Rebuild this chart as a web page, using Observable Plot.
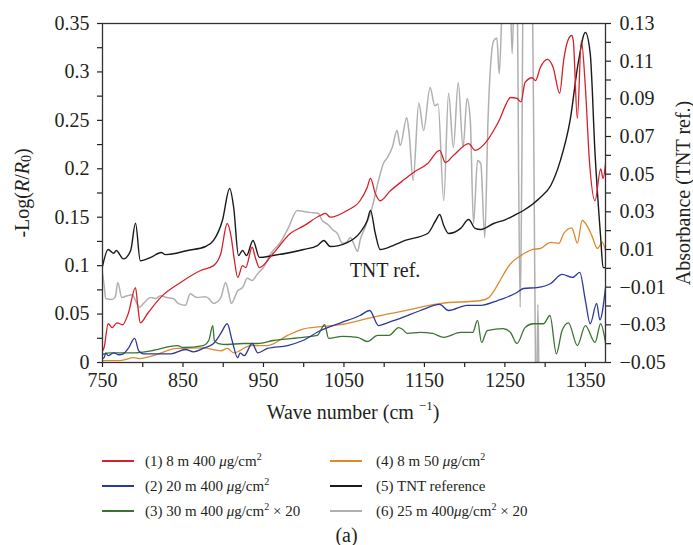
<!DOCTYPE html>
<html><head><meta charset="utf-8">
<script src="https://cdn.jsdelivr.net/npm/d3@7"></script>
<script src="https://cdn.jsdelivr.net/npm/@observablehq/plot@0.6"></script>
<style>
body{margin:0;background:#fff;}
#wrap{position:relative;width:693px;height:545px;font-family:"Liberation Serif","Times New Roman",serif;color:#231f20;overflow:hidden;}
#wrap svg{position:absolute;left:0;top:0;}
.leg{position:absolute;font-size:15px;white-space:nowrap;line-height:1;transform:translateY(-50%);}
.leg sup{font-size:10px;vertical-align:0;position:relative;top:-6px;}
.sw{position:absolute;height:1.6px;width:32px;}
#cap{position:absolute;left:0;width:693px;text-align:center;font-size:20px;transform:translateY(-50%);}
</style></head><body><div id="wrap"></div>
<script>
// ---- data (wave number, value) ----
// (1) 8 m 400 µg/cm2  [-Log(R/R0)]
const red = [[750,0.012],[752,0.0155],[757,0.040],[762,0.036],[768,0.041],[775,0.039],[782,0.0506],[791,0.0774],[794,0.057],[797,0.041],[806,0.0506],[822,0.067],[847,0.0826],[872,0.095],[888,0.100],[897,0.1125],[905,0.1435],[910,0.129],[914,0.105],[918,0.0878],[924,0.100],[928,0.098],[936,0.119],[940,0.108],[945,0.098],[962,0.1125],[983,0.133],[1000,0.141],[1021,0.152],[1027,0.154],[1033,0.150],[1054,0.157],[1070,0.167],[1079,0.181],[1083,0.190],[1089,0.1745],[1095,0.167],[1108,0.1776],[1122,0.187],[1136,0.196],[1154,0.2055],[1169,0.219],[1176,0.2065],[1186,0.2137],[1205,0.226],[1213,0.219],[1226,0.227],[1236,0.2395],[1244,0.252],[1251,0.266],[1257,0.2736],[1265,0.2726],[1270,0.269],[1275,0.289],[1284,0.294],[1288,0.291],[1294,0.3046],[1303,0.313],[1310,0.3046],[1318,0.278],[1323,0.312],[1328,0.332],[1333,0.3376],[1335,0.332],[1340,0.252],[1345,0.332],[1350,0.284],[1355,0.2085],[1362,0.167],[1369,0.200],[1372,0.190],[1375,0.205]];
// (2) 20 m 400 µg/cm2
const blue = [[750,0.004],[752,0.005],[754,0.010],[757,0.007],[764,0.010],[770,0.008],[776,0.009],[782,0.0145],[790,0.025],[795,0.012],[801,0.009],[822,0.009],[835,0.009],[853,0.0134],[863,0.011],[875,0.0145],[888,0.0196],[897,0.030],[905,0.040],[911,0.0227],[918,0.005],[921,0.010],[926,0.007],[936,0.0196],[943,0.010],[955,0.0145],[980,0.0175],[999,0.0227],[1021,0.033],[1046,0.041],[1070,0.0485],[1082,0.0537],[1093,0.038],[1104,0.041],[1123,0.0465],[1145,0.0537],[1169,0.060],[1180,0.0537],[1203,0.059],[1220,0.059],[1241,0.064],[1248,0.066],[1265,0.0723],[1273,0.0764],[1290,0.0774],[1307,0.0816],[1321,0.0909],[1334,0.0878],[1343,0.093],[1350,0.064],[1356,0.040],[1364,0.061],[1368,0.044],[1375,0.077]];
// (3) 30 m 400 µg/cm2 x 20
const green = [[750,0.008],[752,0.009],[760,0.010],[788,0.010],[810,0.012],[843,0.0175],[850,0.0155],[875,0.0175],[882,0.0227],[887,0.038],[889,0.0227],[894,0.0196],[905,0.0186],[925,0.0196],[943,0.0196],[962,0.0227],[999,0.026],[1017,0.028],[1026,0.039],[1031,0.025],[1048,0.027],[1067,0.026],[1079,0.0217],[1092,0.028],[1106,0.028],[1118,0.036],[1123,0.034],[1129,0.030],[1145,0.031],[1160,0.030],[1174,0.026],[1195,0.031],[1210,0.031],[1216,0.0434],[1221,0.0207],[1228,0.033],[1248,0.035],[1257,0.031],[1265,0.0196],[1275,0.036],[1285,0.040],[1298,0.040],[1306,0.0485],[1314,0.009],[1321,0.033],[1329,0.041],[1340,0.0175],[1350,0.038],[1362,0.0207],[1369,0.040],[1375,0.0207]];
// (4) 8 m 50 µg/cm2
const orange = [[750,0.002],[772,0.002],[789,0.005],[796,0.004],[813,0.007],[843,0.0145],[875,0.015],[897,0.012],[905,0.0145],[913,0.010],[934,0.0175],[955,0.0175],[980,0.028],[999,0.0345],[1021,0.037],[1046,0.039],[1070,0.0434],[1095,0.0485],[1123,0.053],[1170,0.061],[1220,0.064],[1230,0.067],[1238,0.076],[1244,0.0847],[1257,0.102],[1269,0.110],[1285,0.1167],[1294,0.1177],[1307,0.124],[1317,0.123],[1323,0.133],[1333,0.139],[1336,0.133],[1340,0.123],[1346,0.1466],[1352,0.1414],[1358,0.131],[1365,0.1177],[1371,0.124],[1375,0.1156]];
// (5) TNT reference  [Absorbance, right axis]
const tntRef = [[750,0.001],[757,0.010],[764,0.008],[767,0.0095],[776,0.005],[785,0.0095],[791,0.024],[797,0.004],[810,0.0058],[823,0.0084],[828,0.0073],[856,0.0095],[878,0.0116],[888,0.0148],[899,0.0254],[908,0.0424],[913,0.0323],[919,0.0068],[924,0.0095],[929,0.0068],[937,0.0148],[945,0.0058],[962,0.0068],[1000,0.010],[1017,0.0121],[1025,0.0148],[1033,0.0116],[1054,0.0137],[1070,0.019],[1079,0.0254],[1083,0.0307],[1089,0.0185],[1095,0.010],[1111,0.0121],[1126,0.0148],[1154,0.0185],[1164,0.0254],[1169,0.0286],[1174,0.0227],[1180,0.0185],[1195,0.0212],[1205,0.0259],[1213,0.0212],[1220,0.0206],[1236,0.0238],[1251,0.0259],[1261,0.028],[1273,0.0307],[1294,0.0376],[1307,0.044],[1319,0.0573],[1331,0.0785],[1341,0.1088],[1350,0.1252],[1356,0.1141],[1362,0.061],[1369,0.0164],[1372,0.0004],[1375,0.0004]];
// (6) 25 m 400 µg/cm2 x 20 (runs off scale)
const grey = [[750,0.092],[752,0.080],[754,0.066],[762,0.065],[766,0.068],[769,0.0826],[774,0.067],[781,0.069],[787,0.070],[791,0.064],[796,0.057],[801,0.061],[810,0.067],[816,0.066],[822,0.069],[830,0.067],[838,0.066],[844,0.061],[853,0.059],[859,0.071],[867,0.067],[878,0.068],[882,0.066],[888,0.061],[897,0.067],[903,0.0826],[907,0.071],[910,0.061],[918,0.074],[924,0.0774],[930,0.087],[936,0.0847],[943,0.092],[950,0.098],[959,0.1125],[971,0.124],[981,0.139],[992,0.157],[1000,0.156],[1008,0.155],[1018,0.154],[1023,0.1466],[1030,0.1425],[1036,0.137],[1042,0.133],[1048,0.123],[1053,0.124],[1058,0.129],[1062,0.123],[1067,0.1146],[1070,0.126],[1076,0.139],[1085,0.160],[1093,0.188],[1099,0.2055],[1104,0.2116],[1110,0.222],[1116,0.2395],[1120,0.224],[1128,0.253],[1131,0.2364],[1136,0.188],[1143,0.268],[1149,0.2395],[1157,0.284],[1163,0.265],[1167,0.267],[1174,0.167],[1180,0.278],[1186,0.222],[1192,0.289],[1198,0.222],[1203,0.2726],[1207,0.250],[1211,0.1435],[1216,0.2085],[1220,0.2055],[1225,0.129],[1229,0.250],[1236,0.332],[1240,0.335],[1243,0.298],[1247,0.38],[1252,0.42],[1256,0.40],[1259,0.319],[1262,0.40],[1265,0.42],[1267,0.20],[1269,0.057],[1271,0.20],[1273,0.42],[1280,0.42],[1284,0.40],[1287,0.10],[1289,-0.06],[1291,0.06],[1293,-0.06],[1296,-0.1]];

// ---- ticks ----
const xMajor = [750, 850, 950, 1050, 1150, 1250, 1350];
const xMinor = [800, 900, 1000, 1100, 1200, 1300];
const yMajor = [0, 0.05, 0.1, 0.15, 0.2, 0.25, 0.3, 0.35];
const yMinor = [0.025, 0.075, 0.125, 0.175, 0.225, 0.275, 0.325];
const absMajor = [-0.05, -0.03, -0.01, 0.01, 0.03, 0.05, 0.07, 0.09, 0.11, 0.13];
const absMinor = [-0.04, -0.02, 0, 0.02, 0.04, 0.06, 0.08, 0.10, 0.12];
const Y_DOMAIN = [0, 0.35];
const ABS_DOMAIN = [-0.05, 0.13];

const legendItems = [
  {label: '(1) 8 m 400 <i>μ</i>g/cm<sup>2</sup>', color: "#d7202a"},
  {label: '(2) 20 m 400 <i>μ</i>g/cm<sup>2</sup>', color: "#2b3a9a"},
  {label: '(3) 30 m 400 <i>μ</i>g/cm<sup>2</sup> × 20', color: "#3a7332"},
  {label: '(4) 8 m 50 <i>μ</i>g/cm<sup>2</sup>', color: "#dc8a2e"},
  {label: '(5) TNT reference', color: "#1a1a1a"},
  {label: '(6) 25 m 400<i>μ</i>g/cm<sup>2</sup> × 20', color: "#b0b0b0"}
];

// ---- build ----
const absToLeft = a => (a - ABS_DOMAIN[0]) / (ABS_DOMAIN[1] - ABS_DOMAIN[0]) * (Y_DOMAIN[1] - Y_DOMAIN[0]) + Y_DOMAIN[0];
const leftToAbs = v => (v - Y_DOMAIN[0]) / (Y_DOMAIN[1] - Y_DOMAIN[0]) * (ABS_DOMAIN[1] - ABS_DOMAIN[0]) + ABS_DOMAIN[0];
const toRows = arr => arr.map(([x, y]) => ({x, y}));
const tntRows = tntRef.map(([x, a]) => ({x, y: absToLeft(a)}));
const fmtAbs = v => { const a = Math.round(leftToAbs(v) * 100) / 100; return (a < 0 ? "\u2212" : "") + Math.abs(a).toFixed(2); };

const lineOpts = (color, w = 1.3) => ({x: "x", y: "y", stroke: color, strokeWidth: w, curve: "monotone-x", clip: true});

const chart = Plot.plot({
  width: 693, height: 425,
  marginLeft: 102, marginRight: 88, marginTop: 23, marginBottom: 63,
  x: {domain: [750, 1375]},
  y: {domain: Y_DOMAIN},
  style: {fontFamily: '"Liberation Serif","Times New Roman",serif', color: "#231f20", background: "white", overflow: "visible"},
  marks: [
    Plot.line(toRows(grey), lineOpts(legendItems[5].color, 1.5)),
    Plot.line(toRows(orange), lineOpts(legendItems[3].color)),
    Plot.line(toRows(green), lineOpts(legendItems[2].color)),
    Plot.line(toRows(blue), lineOpts(legendItems[1].color)),
    Plot.line(tntRows, lineOpts(legendItems[4].color, 1.4)),
    Plot.line(toRows(red), lineOpts(legendItems[0].color)),
    Plot.text([{x: 1101, y: 0.095, t: "TNT ref."}], {x: "x", y: "y", text: "t", fontSize: 20, fill: "#231f20"}),
    Plot.axisX({ticks: xMajor, tickSize: 5, tickPadding: 5, tickFormat: d => String(d), fontSize: 20, label: null, strokeWidth: 1.2}),
    Plot.axisX({ticks: xMinor, tickSize: 5, tickFormat: () => "", label: null, strokeWidth: 1.2}),
    Plot.axisY({ticks: yMajor, tickSize: 5, tickPadding: 8, tickFormat: d => String(Math.round(d * 100) / 100), fontSize: 20, label: null, strokeWidth: 1.2}),
    Plot.axisY({ticks: yMinor, tickSize: 5, tickFormat: () => "", label: null, strokeWidth: 1.2}),
    Plot.axisY({anchor: "right", ticks: absMajor.map(absToLeft), tickSize: 5, tickPadding: 9, tickFormat: fmtAbs, fontSize: 20, label: null, strokeWidth: 1.2}),
    Plot.axisY({anchor: "right", ticks: absMinor.map(absToLeft), tickSize: 5, tickFormat: () => "", label: null, strokeWidth: 1.2}),
    Plot.frame({stroke: "#333", strokeWidth: 1.3})
  ]
});

const wrap = document.getElementById("wrap");
wrap.appendChild(chart);

// axis titles with rich text
const svg = d3.select(chart);
const yl = svg.append("text").attr("transform", "translate(22,193) rotate(-90)")
  .attr("text-anchor", "middle").attr("dominant-baseline", "central").attr("font-size", 20).attr("fill", "#231f20");
yl.append("tspan").text("-Log(");
yl.append("tspan").attr("font-style", "italic").text("R");
yl.append("tspan").text("/");
yl.append("tspan").attr("font-style", "italic").text("R");
yl.append("tspan").attr("font-size", 14).attr("dy", 4).text("0");
yl.append("tspan").attr("dy", -4).text(")");

svg.append("text").attr("transform", "translate(683,193) rotate(-90)")
  .attr("text-anchor", "middle").attr("dominant-baseline", "central").attr("font-size", 20).attr("fill", "#231f20")
  .text("Absorbance (TNT ref.)");

const xl = svg.append("text").attr("x", 353).attr("y", 412)
  .attr("text-anchor", "middle").attr("dominant-baseline", "central").attr("font-size", 20).attr("fill", "#231f20");
xl.append("tspan").text("Wave number (cm ");
xl.append("tspan").attr("font-size", 13).attr("dy", -7).text("\u22121");
xl.append("tspan").attr("dy", 7).text(")");

// legend (below the svg)
const rowsY = [461, 486, 511];
const cols = [{sw: 102, tx: 145}, {sw: 330, tx: 376}];
legendItems.forEach((it, i) => {
  const c = cols[Math.floor(i / 3)], y = rowsY[i % 3];
  const sw = document.createElement("div");
  sw.className = "sw"; sw.style.left = c.sw + "px"; sw.style.top = (y - 1) + "px"; sw.style.background = it.color;
  wrap.appendChild(sw);
  const t = document.createElement("div");
  t.className = "leg"; t.style.left = c.tx + "px"; t.style.top = y + "px"; t.innerHTML = it.label;
  wrap.appendChild(t);
});
const cap = document.createElement("div");
cap.id = "cap"; cap.style.top = "535px"; cap.textContent = "(a)";
wrap.appendChild(cap);
</script></body></html>
